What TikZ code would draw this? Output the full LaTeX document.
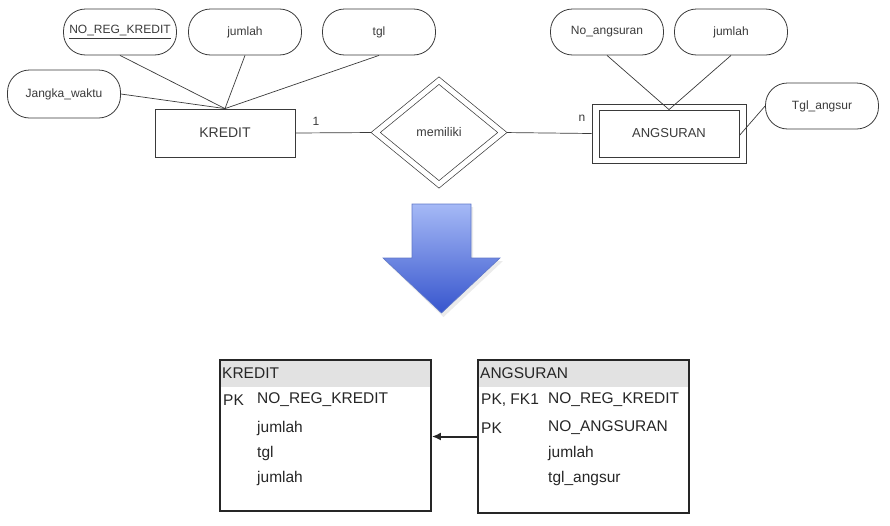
\documentclass[tikz,border=0pt]{standalone}
\usepackage{fontspec}
\setmainfont{Liberation Sans}
\usetikzlibrary{shapes.geometric,arrows.meta,backgrounds}
\definecolor{hdr}{HTML}{E2E2E2}
\definecolor{ink}{HTML}{3A3A3A}
\definecolor{arrtop}{RGB}{165,185,246}
\definecolor{arrbot}{RGB}{55,85,205}
\definecolor{arredge}{RGB}{95,120,200}
\tikzset{
  attr/.style={draw=ink, line width=0.8pt, rectangle, rounded corners=22pt,
    minimum width=113pt, minimum height=46pt, inner sep=0pt,
    font=\fontsize{12}{14}\selectfont, text=ink},
  ent/.style={draw=ink, line width=0.8pt, rectangle, inner sep=0pt,
    font=\fontsize{13}{15}\selectfont, text=ink},
  rel/.style={draw=ink, line width=0.7pt, double=white, double distance=5pt,
    diamond, inner sep=0pt, minimum width=127pt, minimum height=104pt,
    font=\fontsize{12.5}{15}\selectfont, text=ink},
  conn/.style={draw=ink, line width=0.7pt},
  card/.style={font=\fontsize{12}{14}\selectfont, text=ink, inner sep=0pt},
  tbl/.style={draw=black!85, line width=1.8pt, rectangle, inner sep=0pt,
    minimum width=211pt,
    path picture={\fill[hdr] (path picture bounding box.north west) rectangle
      ([yshift=-27pt]path picture bounding box.north east);}},
  cell/.style={anchor=west, inner sep=0pt, font=\fontsize{15.5}{18}\selectfont, text=black!85},
}
\begin{document}
\begin{tikzpicture}[x=1pt,y=-1pt]
\useasboundingbox (0,0) rectangle (890,525);

% ---------- ER diagram ----------
\node[attr] (nrk) at (120,32) {\underline{NO\_REG\_KREDIT}};
\node[attr] (jml) at (245,32) {jumlah};
\node[attr] (tgl) at (379,32) {tgl};
\node[attr, minimum height=48pt] (jw) at (64,94) {Jangka\_waktu};
\node[ent, minimum width=140pt, minimum height=48pt, font=\fontsize{14}{16}\selectfont] (kre) at (225,133) {KREDIT};

\node[rel] (mem) at (439,132.5) {memiliki};

\node[ent, minimum width=154pt, minimum height=59pt] (angout) at (669,133.5) {};
\node[ent, minimum width=140pt, minimum height=47pt] (ang) at (669,133.5) {ANGSURAN};
\node[attr] (noa) at (607,32) {No\_angsuran};
\node[attr] (jm2) at (731,32) {jumlah};
\node[attr] (tga) at (822,106) {Tgl\_angsur};

\node[card] (c1) at (316,121) {1};
\node[card] (cn) at (582,118) {n};

\begin{scope}[on background layer]
  \draw[conn] (kre.east) -- (mem.west);
  \draw[conn] (mem.east) -- (angout.west);
\end{scope}
\draw[conn] (nrk.south) -- (kre.north);
\draw[conn] (jml.south) -- (kre.north);
\draw[conn] (tgl.south) -- (kre.north);
\draw[conn] (jw.east) -- (kre.north);
\draw[conn] (noa.south) -- (ang.north);
\draw[conn] (jm2.south) -- (ang.north);
\draw[conn] (tga.west) -- ([yshift=-2pt]ang.east);

% ---------- big arrow ----------
\fill[black, opacity=0.08] (414,207) -- (473,207) -- (473,261) -- (503,261)
  -- (443.5,317) -- (385,261) -- (414,261) -- cycle;
\shade[top color=arrtop, bottom color=arrbot, draw=arredge, line width=0.6pt]
  (412,204) -- (471,204) -- (471,258) -- (500,258) -- (441.5,313)
  -- (383,258) -- (412,258) -- cycle;

% ---------- tables ----------
\node[tbl, minimum height=151pt] (ktab) at (325.5,435.5) {};
\node[tbl, minimum height=153pt] (atab) at (583.5,436.5) {};

\node[cell] (kh) at (222,373) {KREDIT};
\node[cell] (kpk) at (223,400) {PK};
\node[cell] (k1) at (257,400) {NO\_REG\_KREDIT};
\node[cell] (k2) at (257,428) {jumlah};
\node[cell] (k3) at (257,453) {tgl};
\node[cell] (k4) at (257,478) {jumlah};

\node[cell] (ah) at (480,373) {ANGSURAN};
\node[cell] (apk1) at (481,400) {PK, FK1};
\node[cell] (apk2) at (481,428) {PK};
\node[cell] (a1) at (548,400) {NO\_REG\_KREDIT};
\node[cell] (a2) at (548,428) {NO\_ANGSURAN};
\node[cell] (a3) at (548,453) {jumlah};
\node[cell] (a4) at (548,478) {tgl\_angsur};

\draw[line width=2pt, draw=black!85, -{Latex[length=9pt,width=8pt]}]
  (atab.west) -- (atab.west -| ktab.east);
\end{tikzpicture}
\end{document}
